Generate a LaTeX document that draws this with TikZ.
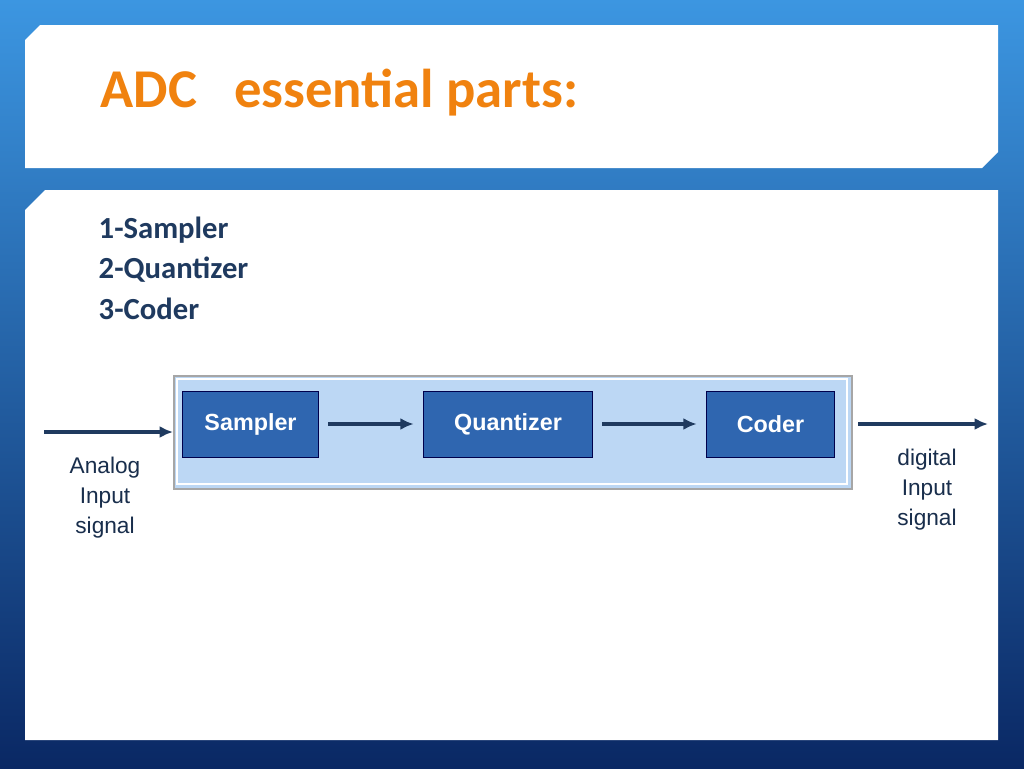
\documentclass[tikz,border=0pt]{standalone}
\usepackage{fontspec}
\setmainfont{Carlito}
\newfontfamily\arial{Liberation Sans}
\begin{document}
\begin{tikzpicture}[x=0.75pt,y=-0.75pt,
  panel/.style={fill=white,draw=none},
  blk/.style={draw=blue!30!black,fill=titleblue,line width=0.8pt,text=white,font=\arial\bfseries\fontsize{17.5}{18}\selectfont},
  arr/.style={draw=navy,line width=2.4pt,-{Latex[length=10pt,width=9pt]}},
  lbl/.style={font=\arial\fontsize{17}{22.5}\selectfont,align=center,text=navy!80!black}]
\usetikzlibrary{arrows.meta,shadows}
\definecolor{navy}{HTML}{1F3A5F}
\definecolor{orng}{HTML}{F0820F}
\definecolor{titleblue}{HTML}{2F66B0}
\definecolor{lightb}{HTML}{BCD7F4}
\useasboundingbox (0,0) rectangle (1024,768);
\shade[top color={rgb,255:red,60;green,150;blue,225}, bottom color={rgb,255:red,10;green,40;blue,100}] (0,0) rectangle (1024,768);
% title panel
\fill[panel] (40,25) -- (998,25) -- (998,152) -- (982,168) -- (25,168) -- (25,40) -- cycle;
\node[anchor=base west,text=orng,font=\bfseries\fontsize{41}{44}\selectfont] (title) at (96,107) {ADC\ \ \ essential parts:};
% content panel
\fill[panel] (45,190) -- (998,190) -- (998,740) -- (25,740) -- (25,210) -- cycle;
\node[anchor=north west,text=navy,align=left,font=\bfseries\fontsize{23}{30.5}\selectfont] (list) at (94,212) {1-Sampler\\2-Quantizer\\3-Coder};
% system box
\node[draw=gray!70,line width=1.2pt,fill=lightb,minimum width=678*0.75pt,minimum height=113*0.75pt,anchor=north west] (sys) at (173,375) {};
\draw[white,line width=1pt] (177,379) rectangle (847,484);
\node[blk,minimum width=136*0.75pt,minimum height=66*0.75pt,anchor=north west] (s) at (182,391) {Sampler};
\node[blk,minimum width=169*0.75pt,minimum height=66*0.75pt,anchor=north west] (q) at (423,391) {Quantizer};
\node[blk,minimum width=128*0.75pt,minimum height=66*0.75pt,anchor=north west] (c) at (706,391) {Coder};
\coordinate (in) at (44,432);
\coordinate (inend) at (173,432);
\coordinate (o1) at (858,424);
\coordinate (o2) at (988,424);
\draw[arr] (in) -- (inend);
\draw[arr] ([xshift=7pt]s.east|-0,424) -- ([xshift=-7pt]q.west|-0,424);
\draw[arr] ([xshift=7pt]q.east|-0,424) -- ([xshift=-7pt]c.west|-0,424);
\draw[arr] (o1) -- (o2);
\node[lbl] (al) at (105,498) {Analog\\Input\\signal};
\node[lbl] (dl) at (927,490) {digital\\Input\\signal};
\end{tikzpicture}
\end{document}
